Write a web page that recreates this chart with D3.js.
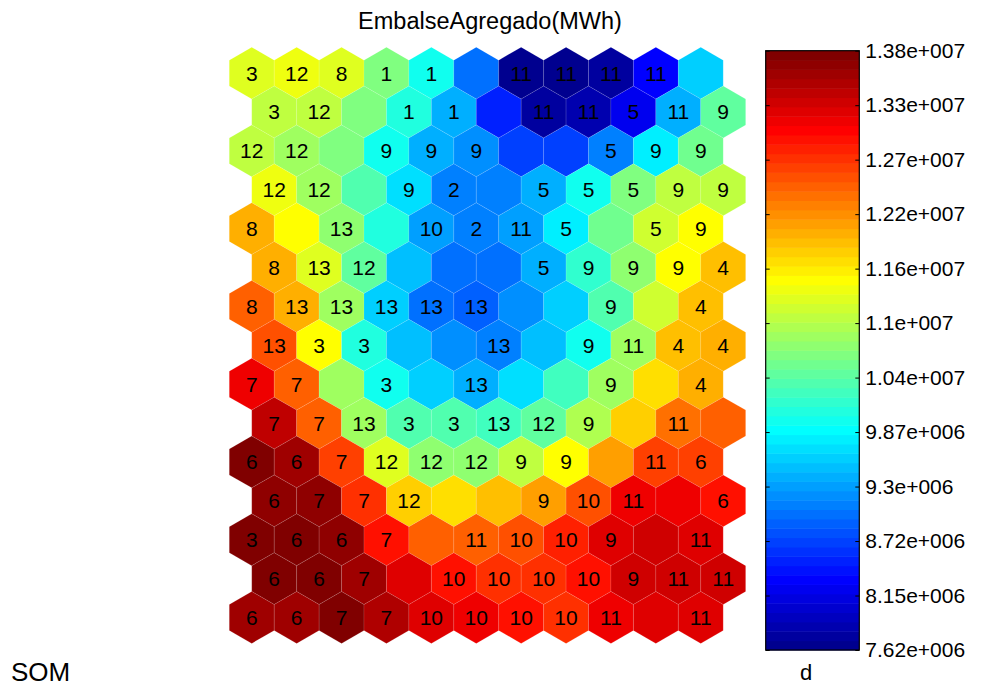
<!DOCTYPE html>
<html>
<head>
<meta charset="utf-8">
<script src="https://cdn.jsdelivr.net/npm/d3@7"></script>
<style>
  html, body { margin: 0; padding: 0; background: #fff; }
  svg { display: block; font-family: "Liberation Sans", Arial, sans-serif; }
</style>
</head>
<body>
<svg id="chart" width="984" height="687"></svg>
<script>
// ---- Data (values in millions of MWh) ----
const title = "EmbalseAgregado(MWh)";
const nCols = 11;
const nRows = 15;
const valueMin = 7.62;   // x 1e6 MWh
const valueMax = 13.8;   // x 1e6 MWh

const row00 = [11.20, 11.33, 11.20, 10.65, 10.03, 8.98, 7.68, 7.68, 7.81, 8.30, 9.63];
const row01 = [11.08, 11.08, 10.65, 10.09, 9.41, 8.55, 7.81, 7.87, 8.24, 9.41, 10.46];
const row02 = [11.08, 10.90, 10.65, 10.03, 9.41, 9.17, 8.70, 8.70, 9.10, 9.78, 10.52];
const row03 = [11.33, 10.90, 10.40, 9.66, 9.10, 9.10, 9.41, 9.94, 10.65, 11.02, 11.08];
const row04 = [11.88, 11.48, 10.77, 10.09, 9.32, 9.10, 9.32, 9.84, 10.52, 11.17, 11.48];
const row05 = [11.95, 11.27, 10.46, 9.54, 9.01, 9.01, 9.41, 10.15, 10.77, 11.48, 11.82];
const row06 = [12.41, 11.95, 10.90, 9.63, 9.01, 8.92, 9.23, 9.63, 10.40, 11.17, 11.79];
const row07 = [12.50, 11.39, 10.09, 9.47, 9.17, 9.10, 9.54, 10.03, 10.90, 11.79, 11.95];
const row08 = [13.03, 12.41, 10.90, 9.94, 9.63, 9.41, 9.72, 10.25, 10.90, 11.64, 11.88];
const row09 = [13.34, 12.41, 10.90, 10.34, 10.34, 10.25, 10.46, 10.96, 11.70, 12.32, 12.41];
const row10 = [13.74, 13.55, 12.56, 11.27, 10.77, 10.77, 11.02, 11.39, 12.01, 12.63, 12.63];
const row11 = [13.65, 13.65, 12.72, 11.70, 11.58, 11.79, 12.01, 12.50, 13.12, 13.03, 12.87];
const row12 = [13.80, 13.74, 13.65, 12.93, 12.41, 12.41, 12.50, 12.81, 13.18, 13.24, 13.18];
const row13 = [13.74, 13.80, 13.55, 13.18, 12.93, 12.72, 12.72, 12.93, 13.24, 13.24, 13.24];
const row14 = [13.55, 13.55, 13.74, 13.43, 13.18, 13.03, 12.87, 12.72, 13.12, 13.18, 13.18];

const lab00 = ["3","12","8","1","1","","11","11","11","11",""];
const lab01 = ["3","12","","1","1","","11","11","5","11","9"];
const lab02 = ["12","12","","9","9","9","","","5","9","9"];
const lab03 = ["12","12","","9","2","","5","5","5","9","9"];
const lab04 = ["8","","13","","10","2","11","5","","5","9"];
const lab05 = ["8","13","12","","","","5","9","9","9","4"];
const lab06 = ["8","13","13","13","13","13","","","9","","4"];
const lab07 = ["13","3","3","","","13","","9","11","4","4"];
const lab08 = ["7","7","","3","","13","","","9","","4"];
const lab09 = ["7","7","13","3","3","13","12","9","","11",""];
const lab10 = ["6","6","7","12","12","12","9","9","","11","6"];
const lab11 = ["6","7","7","12","","","9","10","11","","6"];
const lab12 = ["3","6","6","7","","11","10","10","9","","11"];
const lab13 = ["6","6","7","","10","10","10","10","9","11","11"];
const lab14 = ["6","6","7","7","10","10","10","10","11","","11"];

const tickLabels = ["7.62e+006","8.15e+006","8.72e+006","9.3e+006","9.87e+006","1.04e+007",
                    "1.1e+007","1.16e+007","1.22e+007","1.27e+007","1.33e+007","1.38e+007"];

const valueRows = [row00,row01,row02,row03,row04,row05,row06,row07,row08,row09,row10,row11,row12,row13,row14];
const labelRows = [lab00,lab01,lab02,lab03,lab04,lab05,lab06,lab07,lab08,lab09,lab10,lab11,lab12,lab13,lab14];

// ---- MATLAB jet(64) colormap ----
function jet(m) {
  const n = Math.ceil(m / 4);
  const u = [];
  for (let k = 1; k <= n; k++) u.push(k / n);
  for (let k = 1; k <= n - 1; k++) u.push(1);
  for (let k = n; k >= 1; k--) u.push(k / n);
  const g0 = Math.ceil(n / 2) - (m % 4 === 1 ? 1 : 0);
  const R = new Array(m).fill(0), G = new Array(m).fill(0), B = new Array(m).fill(0);
  for (let k = 1; k <= u.length; k++) {
    const gi = g0 + k, ri = gi + n, bi = gi - n;
    if (gi >= 1 && gi <= m) G[gi - 1] = u[k - 1];
    if (ri >= 1 && ri <= m) R[ri - 1] = u[k - 1];
    if (bi >= 1 && bi <= m) B[bi - 1] = u[k - 1];
  }
  return d3.range(m).map(i => d3.rgb(R[i] * 255, G[i] * 255, B[i] * 255).formatHex());
}
const cmap = jet(64);
const colorScale = d3.scaleQuantize().domain([valueMin, valueMax]).range(cmap);

// ---- Layout ----
const svg = d3.select("#chart");
const hexW = 44.9;
const hexR = hexW / Math.sqrt(3);
const x = d3.scaleLinear().domain([0, 10.5]).range([251.75, 251.75 + 10.5 * hexW]);
const y = d3.scaleLinear().domain([0, 14]).range([73.1, 73.1 + 14 * 1.5 * hexR]);

const cells = [];
valueRows.forEach((row, r) => row.forEach((v, c) => {
  cells.push({ r, c, v, label: labelRows[r][c], px: x(c + (r % 2 ? 0.5 : 0)), py: y(r) });
}));

const hexPath = (() => {
  const pts = d3.range(6).map(i => {
    const a = Math.PI / 180 * (60 * i - 90);
    return [hexR * Math.cos(a), hexR * Math.sin(a)];
  });
  return "M" + pts.map(p => p.join(",")).join("L") + "Z";
})();

const g = svg.append("g");
g.selectAll("path.hex").data(cells).join("path")
  .attr("class", "hex")
  .attr("d", hexPath)
  .attr("transform", d => `translate(${d.px},${d.py})`)
  .attr("fill", d => colorScale(d.v))
  .attr("stroke", "rgba(255,255,255,0.18)")
  .attr("stroke-width", 0.6);

g.selectAll("text.lab").data(cells.filter(d => d.label !== "")).join("text")
  .attr("class", "lab")
  .attr("x", d => d.px)
  .attr("y", d => d.py)
  .attr("text-anchor", "middle")
  .attr("dominant-baseline", "central")
  .attr("font-size", 21)
  .attr("fill", "#000")
  .text(d => d.label);

// ---- Title & side texts ----
svg.append("text").attr("x", 490).attr("y", 28.5).attr("text-anchor", "middle")
  .attr("font-size", 23.5).attr("fill", "#000").text(title);
svg.append("text").attr("x", 11).attr("y", 681).attr("font-size", 26)
  .attr("fill", "#000").text("SOM");

// ---- Colorbar ----
const cbX0 = 765.7, cbX1 = 859.3, cbTop = 50.7, cbBot = 650;
const cbY = d3.scaleLinear().domain([valueMin, valueMax]).range([cbBot, cbTop]);
const step = (valueMax - valueMin) / cmap.length;
svg.append("g").selectAll("rect").data(cmap).join("rect")
  .attr("x", cbX0).attr("width", cbX1 - cbX0)
  .attr("y", (d, i) => cbY(valueMin + (i + 1) * step))
  .attr("height", (d, i) => cbY(valueMin + i * step) - cbY(valueMin + (i + 1) * step) + 0.5)
  .attr("fill", d => d);

const tickVals = d3.range(tickLabels.length).map(k => valueMin + k * (valueMax - valueMin) / (tickLabels.length - 1));
const axisR = d3.axisRight(cbY).tickValues(tickVals).tickSize(-4).tickPadding(6)
  .tickFormat((d, i) => tickLabels[i]);
const axR = svg.append("g").attr("transform", `translate(${cbX1},0)`).call(axisR);
axR.select(".domain").remove();
axR.selectAll("text").attr("font-size", 21).attr("font-family", "'Liberation Sans', Arial, sans-serif").attr("fill", "#000");
axR.selectAll("line").attr("stroke", "#000");
const axisL = d3.axisLeft(cbY).tickValues(tickVals).tickSize(-4).tickFormat("");
const axL = svg.append("g").attr("transform", `translate(${cbX0},0)`).call(axisL);
axL.select(".domain").remove();
axL.selectAll("line").attr("stroke", "#000");

svg.append("rect").attr("x", cbX0).attr("y", cbTop).attr("width", cbX1 - cbX0).attr("height", cbBot - cbTop)
  .attr("fill", "none").attr("stroke", "#000").attr("stroke-width", 1.2);

svg.append("text").attr("x", 806).attr("y", 680).attr("text-anchor", "middle")
  .attr("font-size", 22).attr("fill", "#000").text("d");
</script>
</body>
</html>
